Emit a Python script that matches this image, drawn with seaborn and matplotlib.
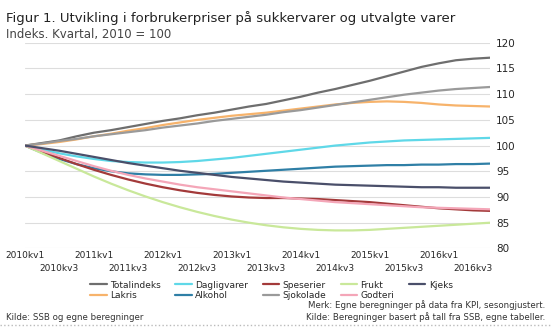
import matplotlib
matplotlib.use("Agg")
import matplotlib.pyplot as plt
import seaborn as sns
import pandas as pd

sns.set_theme(style="whitegrid")
plt.rcParams['font.family'] = ['DejaVu Sans']

quarters = [f"{y}kv{q}" for y in range(2010, 2017) for q in range(1, 5)]

totalindeks = [100, 100.5, 101, 101.8, 102.5, 103, 103.6, 104.2, 104.8, 105.3, 105.9, 106.4, 107, 107.6,
               108.1, 108.8, 109.5, 110.3, 111, 111.8, 112.6, 113.5, 114.4, 115.3, 116, 116.6, 116.9, 117.1]
lakris = [100, 100.3, 100.7, 101.2, 101.8, 102.3, 102.9, 103.4, 104, 104.5, 105, 105.4, 105.8, 106.1,
          106.4, 106.8, 107.2, 107.6, 108, 108.3, 108.5, 108.6, 108.5, 108.3, 108, 107.8, 107.7, 107.6]
dagligvarer = [100, 99.2, 98.5, 97.9, 97.4, 97, 96.8, 96.7, 96.7, 96.8, 97, 97.3, 97.6, 98,
               98.4, 98.8, 99.2, 99.6, 100, 100.3, 100.6, 100.8, 101, 101.1, 101.2, 101.3, 101.4, 101.5]
alkohol = [100, 98.6, 97.4, 96.4, 95.6, 95, 94.6, 94.4, 94.3, 94.3, 94.4, 94.5, 94.7, 94.9,
           95.1, 95.3, 95.5, 95.7, 95.9, 96, 96.1, 96.2, 96.2, 96.3, 96.3, 96.4, 96.4, 96.5]
speserier = [100, 98.8, 97.6, 96.4, 95.3, 94.3, 93.4, 92.6, 91.9, 91.3, 90.8, 90.4, 90.1, 89.9,
             89.8, 89.8, 89.7, 89.6, 89.4, 89.2, 89, 88.7, 88.4, 88.1, 87.8, 87.6, 87.4, 87.3]
sjokolade = [100, 100.4, 100.9, 101.3, 101.8, 102.2, 102.6, 103, 103.5, 103.9, 104.3, 104.8, 105.2, 105.6,
             106, 106.5, 106.9, 107.4, 107.9, 108.4, 108.9, 109.4, 109.9, 110.3, 110.7, 111, 111.2, 111.4]
frukt = [100, 98.5, 97, 95.5, 94, 92.6, 91.3, 90.1, 89, 88, 87.1, 86.3, 85.6, 85,
         84.5, 84.1, 83.8, 83.6, 83.5, 83.5, 83.6, 83.8, 84, 84.2, 84.4, 84.6, 84.8, 85]
godteri = [100, 99, 98, 97, 96, 95.1, 94.3, 93.6, 93, 92.4, 91.9, 91.5, 91.1, 90.7,
           90.3, 89.9, 89.6, 89.3, 89, 88.8, 88.6, 88.4, 88.2, 88, 87.9, 87.8, 87.7, 87.6]
kjeks = [100, 99.5, 99, 98.4, 97.8, 97.2, 96.6, 96.1, 95.6, 95.1, 94.7, 94.3, 93.9, 93.6,
         93.3, 93, 92.8, 92.6, 92.4, 92.3, 92.2, 92.1, 92, 91.9, 91.9, 91.8, 91.8, 91.8]

series = {
    "Totalindeks": totalindeks,
    "Lakris": lakris,
    "Dagligvarer": dagligvarer,
    "Alkohol": alkohol,
    "Speserier": speserier,
    "Sjokolade": sjokolade,
    "Frukt": frukt,
    "Godteri": godteri,
    "Kjeks": kjeks,
}
colors = ["#6e6e6e", "#f7b36b", "#5fd8e8", "#2f7fa6", "#a33a3a", "#9a9a9a", "#c9e89a", "#f4a6b8", "#4a4f6a"]

rows = []
for name, vals in series.items():
    for i, v in enumerate(vals):
        rows.append({"kvartal": i, "serie": name, "indeks": v})
df = pd.DataFrame(rows)

fig = plt.figure(figsize=(5.51, 3.29), dpi=100)
ax = fig.add_axes([0.045, 0.245, 0.845, 0.625])
sns.lineplot(data=df, x="kvartal", y="indeks", hue="serie", palette=colors,
             linewidth=1.6, ax=ax, legend=True)

ax.set_ylim(80, 120)
ax.set_yticks(range(80, 121, 5))
ax.yaxis.tick_right()
ax.tick_params(axis="y", labelsize=7.5, length=0, pad=4)
ax.set_xlim(0, len(quarters) - 1)
row1 = list(range(0, len(quarters) - 1, 4))
row2 = list(range(2, len(quarters) - 1, 4))
ax.set_xticks(row1)
ax.set_xticklabels([quarters[t] for t in row1], fontsize=6.5)
ax.set_xticks(row2, minor=True)
ax.set_xticklabels([quarters[t] for t in row2], minor=True, fontsize=6.5)
ax.tick_params(axis="x", which="major", length=0, pad=2)
ax.tick_params(axis="x", which="minor", length=0, pad=11)
ax.grid(axis="x", which="both", visible=False)
ax.grid(axis="y", which="major", color="#dddddd", linewidth=0.8)
for s in ax.spines.values():
    s.set_visible(False)
ax.set_xlabel("")
ax.set_ylabel("")

handles, labels = ax.get_legend_handles_labels()
ax.legend(handles, labels, loc="upper center", bbox_to_anchor=(0.53, -0.13), ncol=5,
          frameon=False, fontsize=6.5, handlelength=1.8, columnspacing=1.6, handletextpad=0.4,
          labelspacing=0.15, borderpad=0.1)

fig.text(0.01, 0.965, "Figur 1. Utvikling i forbrukerpriser på sukkervarer og utvalgte varer",
         fontsize=9.5, va="top", ha="left", color="#222222")
fig.text(0.01, 0.915, "Indeks. Kvartal, 2010 = 100",
         fontsize=8.5, va="top", ha="left", color="#444444")
fig.text(0.99, 0.088, "Merk: Egne beregninger på data fra KPI, sesongjustert.",
         fontsize=6.2, ha="right", va="top", color="#333333")
fig.text(0.99, 0.050, "Kilde: Beregninger basert på tall fra SSB, egne tabeller.",
         fontsize=6.2, ha="right", va="top", color="#333333")
fig.text(0.01, 0.050, "Kilde: SSB og egne beregninger",
         fontsize=6.2, ha="left", va="top", color="#333333")
fig.add_artist(plt.Line2D([0.0, 1.0], [0.012, 0.012], transform=fig.transFigure,
                          color="#bbbbbb", linestyle=":", linewidth=1))

fig.savefig("out.png", dpi=100)
